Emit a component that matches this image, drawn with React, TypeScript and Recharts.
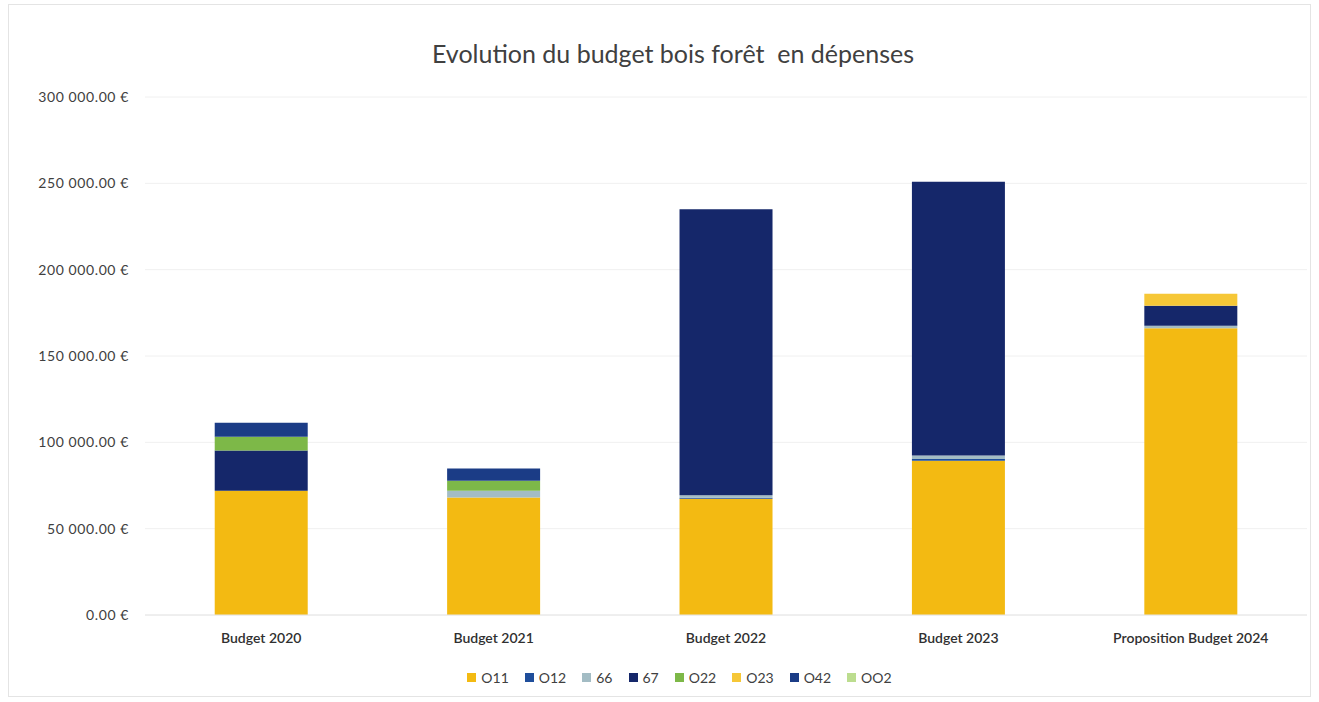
import { BarChart, Bar, XAxis, YAxis, CartesianGrid, Legend } from 'recharts'

// Budget lines, bottom to top of each stack (Excel order)
const categories = ['Budget 2020', 'Budget 2021', 'Budget 2022', 'Budget 2023', 'Proposition Budget 2024']
const seriesNames = ['O11', 'O12', '66', '67', 'O22', 'O23', 'O42', 'OO2']
const seriesColors = ['#F3BA12', '#1F4E9B', '#A3BCC4', '#15276A', '#7DB848', '#F6C737', '#1B3C86', '#BCDD8F']

const o11 = [72000, 68000, 67300, 89400, 166000]
const o12 = [0, 0, 600, 1000, 0]
const s66 = [0, 4000, 1500, 2000, 1500]
const s67 = [23200, 0, 165600, 158500, 11600]
const o22 = [8100, 5800, 0, 0, 0]
const o23 = [0, 0, 0, 0, 7000]
const o42 = [8100, 7000, 0, 0, 0]
const oo2 = [0, 0, 0, 0, 0]

const yTicks = [0, 50000, 100000, 150000, 200000, 250000, 300000]

const seriesValues = [o11, o12, s66, s67, o22, o23, o42, oo2]

const data = categories.map((name, i) => {
  const row: Record<string, string | number> = { name }
  seriesNames.forEach((s, k) => { row[s] = seriesValues[k][i] })
  return row
})

const FONT = 'Lato, "Open Sans", sans-serif'

function fmtEuro(v: number) {
  const int = Math.round(v).toString().replace(/\B(?=(\d{3})+(?!\d))/g, ' ')
  return `${int}.00 €`
}

const LegendContent = () => (
  <div style={{
    display: 'flex', justifyContent: 'center', gap: 16, marginLeft: 52,
    fontFamily: FONT, fontSize: 14, color: '#404040',
  }}>
    {seriesNames.map((s, k) => (
      <div key={s} style={{ display: 'flex', alignItems: 'center', gap: 5 }}>
        <span style={{ width: 9, height: 9, background: seriesColors[k], display: 'inline-block' }} />
        <span>{s}</span>
      </div>
    ))}
  </div>
)

export default function App() {
  return (
    <div style={{ position: 'absolute', left: 0, top: 0, width: 1319, height: 702, background: '#fff', fontFamily: FONT }}>
      <div style={{
        position: 'absolute', left: 8, top: 4, width: 1303, height: 693,
        border: '1px solid #e4e4e4', boxSizing: 'border-box',
      }} />
      <div style={{
        position: 'absolute', left: 0, width: 1346, top: 38, textAlign: 'center',
        fontSize: 25, color: '#404040', fontFamily: FONT,
      }}>
        Evolution du budget bois forêt&nbsp; en dépenses
      </div>
      <BarChart
        width={1319}
        height={702}
        data={data}
        margin={{ top: 97, right: 12, bottom: 30, left: 0 }}
        barCategoryGap="30%"
        style={{ position: 'absolute', left: 0, top: 0 }}
      >
        <CartesianGrid vertical={false} stroke="#f0f0f0" />
        <XAxis
          dataKey="name"
          axisLine={{ stroke: '#e6e6e6' }}
          tickLine={false}
          height={40}
          tick={{ fill: '#303030', fontSize: 14, fontFamily: FONT, fontWeight: 600, dy: 10 }}
          interval={0}
        />
        <YAxis
          width={145}
          domain={[0, 300000]}
          ticks={yTicks}
          axisLine={false}
          tickLine={false}
          tickFormatter={fmtEuro}
          tick={{ fill: '#404040', fontSize: 14, fontFamily: FONT, letterSpacing: 0.6, dx: -8 }}
        />
        <Legend verticalAlign="bottom" content={<LegendContent />} wrapperStyle={{ bottom: 16 }} />
        {seriesNames.map((s, k) => (
          <Bar key={s} dataKey={s} stackId="a" fill={seriesColors[k]} isAnimationActive={false} />
        ))}
      </BarChart>
    </div>
  )
}
